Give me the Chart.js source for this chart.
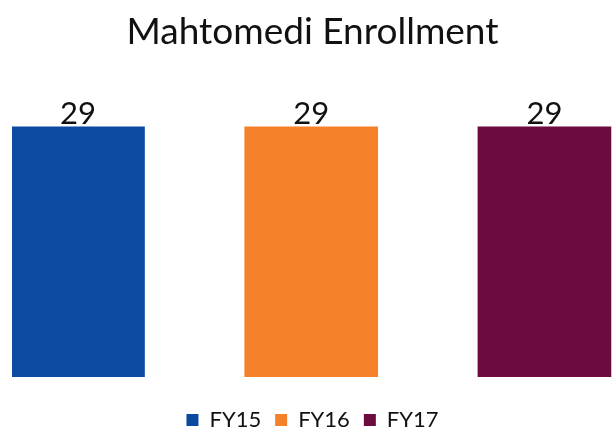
<!DOCTYPE html>
<html>
<head>
<meta charset="utf-8">
<script src="https://cdn.jsdelivr.net/npm/chart.js@4"></script>
<style>
  html, body { margin: 0; padding: 0; background: #fff; }
  #wrap { width: 613px; height: 434px; }
</style>
</head>
<body>
<div id="wrap"><canvas id="myChart"></canvas></div>
<script>
// chart data
const categories = ['FY15', 'FY16', 'FY17'];
const enrollment = [29, 29, 29];
const barColors = ['#0c4aa0', '#f5822b', '#6c0b3d'];

const FONT = 'Lato, "Noto Sans", sans-serif';

// draws the value above each bar (no datalabels plugin offline)
const valueLabels = {
    id: 'valueLabels',
    afterDatasetsDraw(chart) {
        const ctx = chart.ctx;
        ctx.save();
        ctx.font = '31px ' + FONT;
        ctx.fillStyle = '#111';
        ctx.textAlign = 'center';
        ctx.textBaseline = 'alphabetic';
        chart.data.datasets.forEach((ds, i) => {
            const meta = chart.getDatasetMeta(i);
            meta.data.forEach((bar, j) => {
                ctx.fillText(String(ds.data[j].y), bar.x, bar.y - 2);
            });
        });
        ctx.restore();
    }
};

const datasets = categories.map((name, i) => ({
    label: name,
    data: [{ x: i, y: enrollment[i] }],
    backgroundColor: barColors[i]
}));

const config = {
    type: 'bar',
    data: { datasets: datasets },
    options: {
        responsive: true,
        maintainAspectRatio: false,
        animation: false,
        layout: { padding: { left: 12, right: 0, top: 0, bottom: -7 } },
        datasets: { bar: { grouped: false, barThickness: 133 } },
        scales: {
            x: {
                type: 'linear', offset: false, bounds: 'data', min: -0.283, max: 2.294,
                grid: { display: false }, border: { display: false }, ticks: { display: false },
                // keeps a gap between the bars and the legend
                afterFit: (scale) => { scale.height = 18; }
            },
            y: { min: 0, max: 29, display: false }
        },
        plugins: {
            title: {
                display: true,
                text: 'Mahtomedi Enrollment',
                color: '#111',
                font: { family: FONT, size: 37, weight: 'normal' },
                padding: { top: 10, bottom: 72 }
            },
            legend: {
                position: 'bottom',
                labels: {
                    color: '#111',
                    font: { family: FONT, size: 22 },
                    boxWidth: 12,
                    boxHeight: 12,
                    padding: 14
                }
            },
            tooltip: { enabled: false }
        }
    },
    plugins: [valueLabels]
};

const myChart = new Chart(document.getElementById('myChart'), config);
</script>
</body>
</html>
